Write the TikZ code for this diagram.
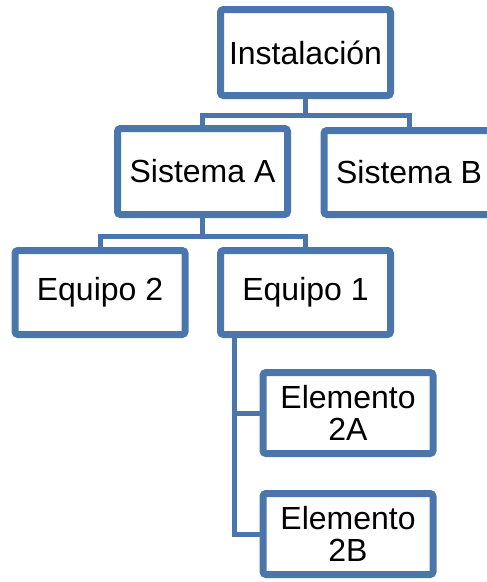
\documentclass[tikz,border=0pt]{standalone}
\usepackage{fontspec}
\setmainfont{Liberation Sans}
\usetikzlibrary{shadows}
\definecolor{orgblue}{RGB}{74,118,172}
\begin{document}
\begin{tikzpicture}[x=1pt,y=-1pt,
  caja/.style={draw=orgblue, line width=7pt, fill=white, rounded corners=3pt,
    minimum width=170pt, minimum height=86pt, inner sep=0pt, align=center,
    font=\fontsize{32}{32.5}\selectfont,
    drop shadow={opacity=0.25, shadow xshift=1pt, shadow yshift=-3pt}},
  enlace/.style={draw=orgblue, line width=5pt}]
\clip (0,0) rectangle (487,582);
\node (inst) at (305.5,52.5) [caja] {Instalación};
\node (sisA) at (202.5,171.5) [caja] {Sistema A};
\node (sisB) at (409,172.5) [caja, minimum height=84pt] {Sistema B};
\node (eq2) at (100,292.5) [caja, minimum height=84pt] {Equipo 2};
\node (eq1) at (305.5,292.5) [caja, minimum height=84pt] {Equipo 1};
\node (elA) at (348,413) [caja, minimum height=81pt] {Elemento\\2A};
\node (elB) at (348,534) [caja, minimum height=81pt] {Elemento\\2B};
\draw[enlace] (inst.south) -- ++(0,16.5) -| (sisA.north);
\draw[enlace] (inst.south) -- ++(0,16.5) -| (sisB.north);
\draw[enlace] (sisA.south) -- ++(0,18) -| (eq2.north);
\draw[enlace] (sisA.south) -- ++(0,18) -| (eq1.north);
\draw[enlace] ([xshift=17.5pt]eq1.south west) |- (elA.west);
\draw[enlace] ([xshift=17.5pt]eq1.south west) |- (elB.west);
\end{tikzpicture}
\end{document}
